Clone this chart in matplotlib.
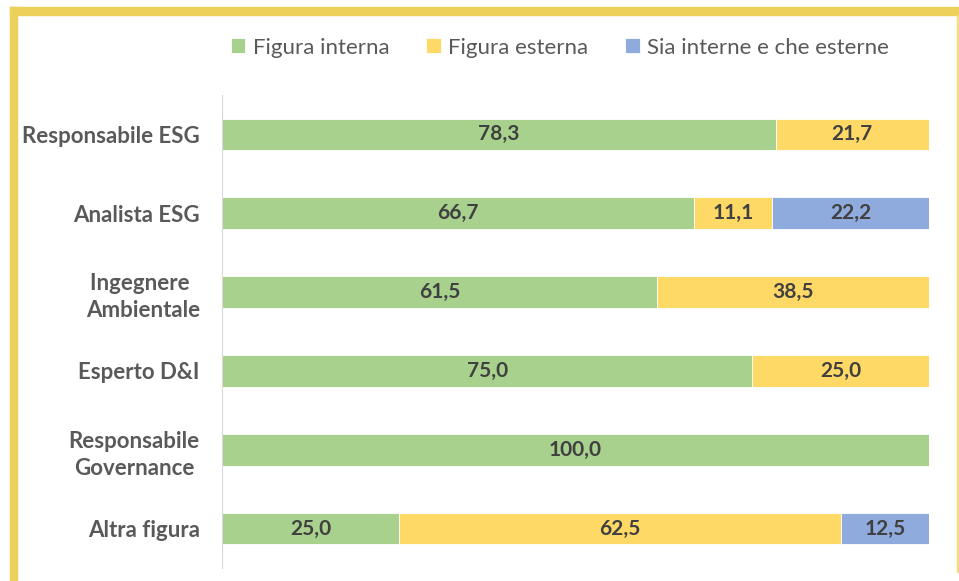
import matplotlib.pyplot as plt
from matplotlib.patches import Rectangle

categories = ['Responsabile ESG', 'Analista ESG', 'Ingegnere \nAmbientale',
              'Esperto D&I', 'Responsabile\nGovernance', 'Altra figura']
interna = [78.3, 66.7, 61.5, 75.0, 100.0, 25.0]
esterna = [21.7, 11.1, 38.5, 25.0, 0.0, 62.5]
entrambe = [0.0, 22.2, 0.0, 0.0, 0.0, 12.5]
series_names = ['Figura interna', 'Figura esterna', 'Sia interne e che esterne']
colors = ['#A9D18E', '#FFD966', '#8FAADC']

plt.rcParams['font.family'] = ['Lato', 'DejaVu Sans']

fig = plt.figure(figsize=(9.59, 5.81), dpi=100)
ax = fig.add_axes([0.2315, 0.0224, 0.7372, 0.8141])

y = list(range(len(categories)))
left = [0.0] * len(categories)
for vals, name, col in zip([interna, esterna, entrambe], series_names, colors):
    bars = ax.barh(y, vals, left=left, height=0.4, color=col, label=name,
                   edgecolor='white', linewidth=0.6)
    for b, v in zip(bars, vals):
        if v > 0:
            ax.text(b.get_x() + b.get_width() / 2, b.get_y() + b.get_height() / 2,
                    f'{v:.1f}'.replace('.', ','), ha='center', va='center',
                    fontsize=15, fontweight='bold', color='#404040')
    left = [l + v for l, v in zip(left, vals)]

ax.set_xlim(0, 100)
ax.set_ylim(5.5, -0.5)
ax.set_yticks(y)
ax.set_yticklabels(categories, fontsize=16, fontweight='bold', color='#595959',
                   multialignment='center', linespacing=1.35)
ax.tick_params(axis='y', length=0, pad=16)
ax.set_xticks([])
for s in ['top', 'right', 'bottom']:
    ax.spines[s].set_visible(False)
ax.spines['left'].set_color('#D9D9D9')

leg = fig.legend(loc='center', bbox_to_anchor=(0.584, 0.918), ncol=3, frameon=False,
                 fontsize=16, handlelength=0.65, handleheight=0.65,
                 handletextpad=0.35, columnspacing=1.65)
for t in leg.get_texts():
    t.set_color('#595959')

# yellow frame around the chart
fig.patches.append(Rectangle((10 / 959, 0), 7 / 959, 1 - 7 / 581,
                             transform=fig.transFigure, color='#EDD05A', zorder=5))
fig.patches.append(Rectangle((10 / 959, 1 - 15 / 581), 1, 8 / 581,
                             transform=fig.transFigure, color='#EDD05A', zorder=5))
fig.patches.append(Rectangle((957 / 959, 9 / 581), 1.5 / 959, 1 - 24 / 581,
                             transform=fig.transFigure, color='#F3DC80', zorder=5))

fig.savefig('out.png', dpi=100)
